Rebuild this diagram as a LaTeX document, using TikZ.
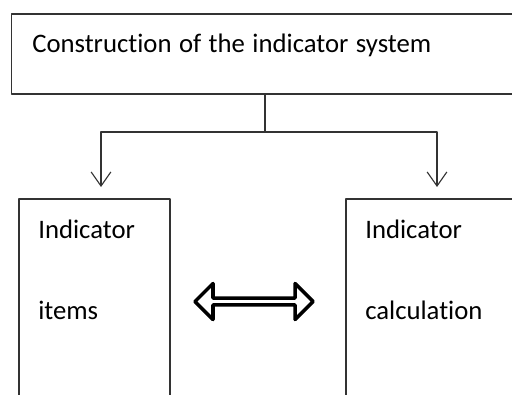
\documentclass[tikz,border=0pt]{standalone}
\usepackage{fontspec}
\setmainfont{Carlito}[Ligatures=NoCommon]
\usetikzlibrary{arrows.meta,shapes.arrows}

\begin{document}
\begin{tikzpicture}[x=0.025cm,y=-0.025cm,line cap=round,line join=round,
  box/.style={draw=black!80,line width=0.8pt,inner sep=0pt},
  txt/.style={anchor=base west,inner sep=0pt,font=\fontsize{19}{23}\selectfont},
  link/.style={draw=black!80,line width=0.8pt},
  down/.style={link,-{Straight Barb[length=10pt,width=14pt]}}]
  \clip (0,0) rectangle (512,394);
  % boxes
  \node[box,minimum width=12.95cm,minimum height=2cm] (construct) at (271,54) {};
  \node[box,minimum width=3.775cm,minimum height=5.775cm] (items) at (94.5,314.5) {};
  \node[box,minimum width=4.6cm,minimum height=5.775cm] (calc) at (438,314.5) {};
  % texts
  \node[txt] (constructText) at (32,53) {\spaceskip=0.28em Construction of the indicator system};
  \node[txt] (itemsTop) at (38,238) {Indicator};
  \node[txt] (itemsBottom) at (38,319) {items};
  \node[txt] (calcTop) at (365,238) {Indicator};
  \node[txt] (calcBottom) at (365,319) {calculation};
  % connectors
  \coordinate (fork) at (265,132);
  \coordinate (itemsTip) at (101,187);
  \coordinate (calcTip) at (437,187);
  \draw[link] (construct.south -| fork) -- (fork);
  \draw[down] (fork) -| (itemsTip);
  \draw[down] (fork) -| (calcTip);
  \node[double arrow,draw=black,line width=2.5pt,inner sep=0pt,
    minimum height=2.95cm,minimum width=0.9cm,
    double arrow head extend=0.19cm,double arrow tip angle=90] (swap) at (254,301.5) {};
\end{tikzpicture}
\end{document}
